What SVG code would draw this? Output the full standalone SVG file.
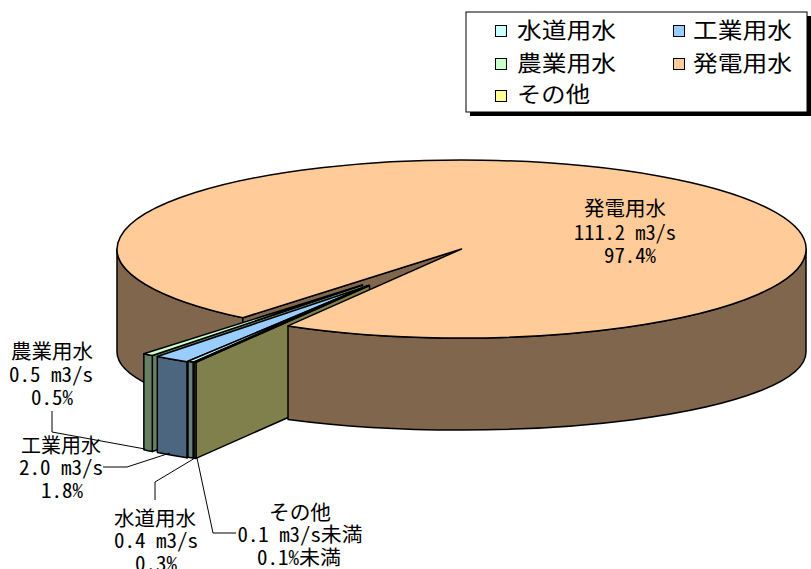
<svg xmlns="http://www.w3.org/2000/svg" width="811" height="569" viewBox="0 0 811 569">
<style>
.o{stroke:#000;stroke-width:1.5;stroke-linejoin:round}
.lbl{font-family:'Noto Sans Mono CJK JP','Noto Sans CJK JP',sans-serif;font-size:20px;fill:#000;text-anchor:middle}
.leg{font-family:'Noto Sans CJK JP',sans-serif;font-size:22px;fill:#000}
.mk{stroke:#000;stroke-width:1}
.ld{fill:none;stroke:#000;stroke-width:1}
</style>
<rect width="811" height="569" fill="#fff"/>

<g id="legend">
  <rect x="470" y="16" width="341" height="100" fill="#000"/>
  <rect x="466" y="12" width="341" height="100" fill="#fff" stroke="#000" stroke-width="1"/>
  <rect class="mk" x="495.5" y="25.5" width="11" height="11" fill="#CCFFFF"/>
  <text class="leg" x="517" y="38" textLength="99" lengthAdjust="spacingAndGlyphs">水道用水</text>
  <rect class="mk" x="673.5" y="25.5" width="11" height="11" fill="#99CCFF"/>
  <text class="leg" x="693" y="38" textLength="99" lengthAdjust="spacingAndGlyphs">工業用水</text>
  <rect class="mk" x="495.5" y="58.5" width="11" height="11" fill="#CCFFCC"/>
  <text class="leg" x="517" y="71" textLength="99" lengthAdjust="spacingAndGlyphs">農業用水</text>
  <rect class="mk" x="673.5" y="58.5" width="11" height="11" fill="#FFCC99"/>
  <text class="leg" x="693" y="71" textLength="99" lengthAdjust="spacingAndGlyphs">発電用水</text>
  <rect class="mk" x="495.5" y="90.5" width="11" height="11" fill="#FFFF99"/>
  <text class="leg" x="517" y="102" textLength="73" lengthAdjust="spacingAndGlyphs">その他</text>
</g>

<g id="hatsuden-back">
  <path class="o" fill="#80664D" d="M242.84,317.77 A344.5,89 0 0 1 117,249 L117,352 A344.5,78 0 0 0 242.84,412.27 Z"/>
  <path class="o" fill="#80664D" d="M461.5,249 L242.84,317.77 L242.84,412.27 L461.5,352 Z"/>
</g>

<g id="nogyo">
  <path class="o" fill="#668066" d="M362.5,285 L152.31,355.51 L152.31,451.51 L362.5,381 Z"/>
  <path class="o" fill="#668066" d="M152.31,355.51 A344.5,89 0 0 1 143.84,353.77 L143.84,449.77 A344.5,89 0 0 0 152.31,451.51 Z"/>
  <path class="o" fill="#CCFFCC" d="M362.5,285 L152.31,355.51 A344.5,89 0 0 1 143.84,353.77 Z"/>
</g>
<g id="kogyo">
  <path class="o" fill="#4D6680" d="M367.5,286 L186.99,361.8 L186.99,457.8 L367.5,382 Z"/>
  <path class="o" fill="#4D6680" d="M186.99,361.8 A344.5,89 0 0 1 157.31,356.51 L157.31,452.51 A344.5,89 0 0 0 186.99,457.8 Z"/>
  <path class="o" fill="#99CCFF" d="M367.5,286 L186.99,361.8 A344.5,89 0 0 1 157.31,356.51 Z"/>
</g>
<g id="suido">
  <path class="o" fill="#668080" d="M368.5,285.5 L193.14,362.11 L193.14,458.11 L368.5,381.5 Z"/>
  <path class="o" fill="#668080" d="M193.14,362.11 A344.5,89 0 0 1 187.99,361.3 L187.99,457.3 A344.5,89 0 0 0 193.14,458.11 Z"/>
  <path class="o" fill="#CCFFFF" d="M368.5,285.5 L193.14,362.11 A344.5,89 0 0 1 187.99,361.3 Z"/>
</g>
<g id="sonota">
  <path class="o" fill="#80804D" d="M369.5,285.5 L196,362.39 L196,458.39 L369.5,381.5 Z"/>
  <path class="o" fill="#80804D" d="M196,362.39 A344.5,89 0 0 1 194.14,362.11 L194.14,458.11 A344.5,89 0 0 0 196,458.39 Z"/>
  <path class="o" fill="#FFFF99" d="M369.5,285.5 L196,362.39 A344.5,89 0 0 1 194.14,362.11 Z"/>
</g>

<g id="hatsuden">
  <path class="o" fill="#80664D" d="M806,249 A344.5,89 0 0 1 288,325.89 L288,419.39 A344.5,78 0 0 0 806,352 Z"/>
  <path class="o" fill="#FFCC99" d="M461.5,249 L242.84,317.77 A344.5,89 0 1 1 288,325.89 Z"/>
  <text class="lbl" x="625" y="216" textLength="82" lengthAdjust="spacingAndGlyphs">発電用水</text>
  <text class="lbl" x="625" y="240" textLength="102" lengthAdjust="spacingAndGlyphs">111.2 m3/s</text>
  <text class="lbl" x="630" y="263" textLength="52" lengthAdjust="spacingAndGlyphs">97.4%</text>
</g>

<g id="connectors">
  <polyline class="ld" points="52,411 52,432 145,449"/>
  <polyline class="ld" points="103,467 127,467 170,453"/>
  <polyline class="ld" points="155,500 155,482 195,458"/>
  <polyline class="ld" points="197,458 213,533 236,533"/>
</g>

<g id="labels">
  <g id="label-nogyo">
    <text class="lbl" x="52" y="359" textLength="82" lengthAdjust="spacingAndGlyphs">農業用水</text>
    <text class="lbl" x="51" y="381.5" textLength="84" lengthAdjust="spacingAndGlyphs">0.5 m3/s</text>
    <text class="lbl" x="52" y="405" textLength="42" lengthAdjust="spacingAndGlyphs">0.5%</text>
  </g>
  <g id="label-kogyo">
    <text class="lbl" x="61" y="453" textLength="80" lengthAdjust="spacingAndGlyphs">工業用水</text>
    <text class="lbl" x="61" y="475" textLength="84" lengthAdjust="spacingAndGlyphs">2.0 m3/s</text>
    <text class="lbl" x="62" y="498" textLength="42" lengthAdjust="spacingAndGlyphs">1.8%</text>
  </g>
  <g id="label-suido">
    <text class="lbl" x="155" y="526" textLength="82" lengthAdjust="spacingAndGlyphs">水道用水</text>
    <text class="lbl" x="156" y="548" textLength="84" lengthAdjust="spacingAndGlyphs">0.4 m3/s</text>
    <text class="lbl" x="156" y="571" textLength="42" lengthAdjust="spacingAndGlyphs">0.3%</text>
  </g>
  <g id="label-sonota">
    <text class="lbl" x="300" y="519.5" textLength="62" lengthAdjust="spacingAndGlyphs">その他</text>
    <text class="lbl" x="300" y="542" textLength="125" lengthAdjust="spacingAndGlyphs">0.1 m3/s未満</text>
    <text class="lbl" x="299" y="565" textLength="84" lengthAdjust="spacingAndGlyphs">0.1%未満</text>
  </g>
</g>
</svg>
